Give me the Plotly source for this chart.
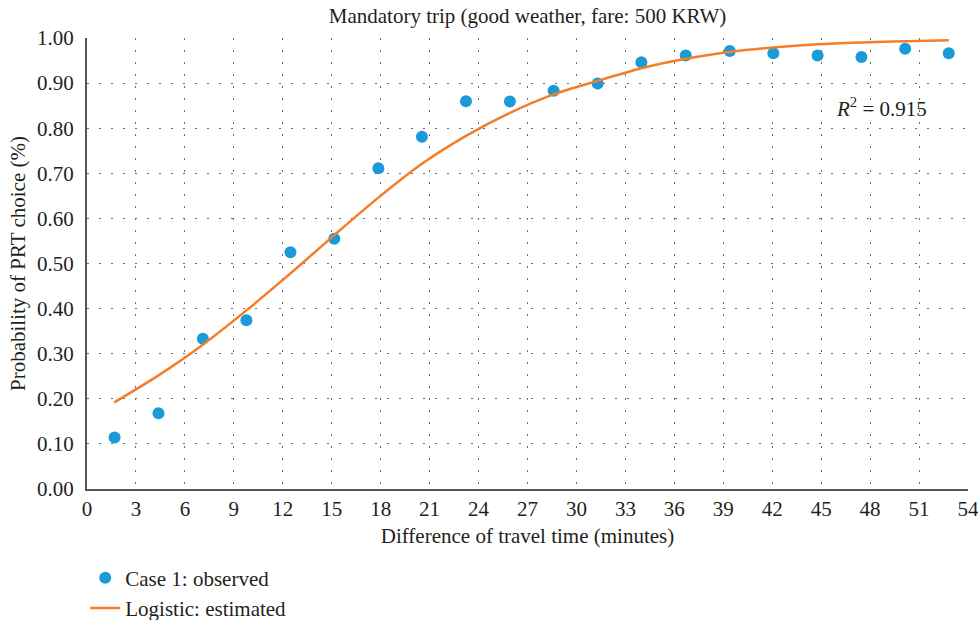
import plotly.graph_objects as go

# Observed points
obs_x = [1.69, 4.38, 7.10, 9.77, 12.47, 15.16, 17.86, 20.53, 23.23, 25.92,
         28.60, 31.30, 33.98, 36.70, 39.40, 42.07, 44.78, 47.47, 50.15, 52.82]
obs_y = [0.114, 0.168, 0.333, 0.374, 0.525, 0.555, 0.711, 0.781, 0.860, 0.859,
         0.883, 0.899, 0.946, 0.961, 0.971, 0.966, 0.961, 0.958, 0.976, 0.966]

# Estimated logistic curve
est_x = [1.67, 4.38, 7.10, 9.77, 12.47, 15.16, 17.86, 20.53, 23.23, 25.92,
         28.60, 31.30, 33.98, 36.70, 39.40, 42.07, 44.78, 47.47, 50.15, 52.82]
est_y = [0.192, 0.252, 0.320, 0.396, 0.478, 0.563, 0.646, 0.721, 0.783, 0.834,
         0.875, 0.905, 0.933, 0.954, 0.969, 0.979, 0.986, 0.990, 0.993, 0.995]

x_ticks = list(range(0, 55, 3))
y_ticks = [i / 10 for i in range(0, 11)]

FONT = "Liberation Serif"
TXT = "#231f20"
FS = 21

fig = go.Figure()
fig.add_trace(go.Scatter(
    x=obs_x, y=obs_y, mode="markers", name="Case 1: observed",
    marker=dict(color="#1A9BD7", size=12, line=dict(width=0)),
))
fig.add_trace(go.Scatter(
    x=est_x, y=est_y, mode="lines", name="Logistic: estimated",
    line=dict(color="#F47D2A", width=2.5, shape="spline", smoothing=0.8),
))

grid = dict(showgrid=True, gridcolor="#6d6d6d", gridwidth=1, griddash="1.5px,10.5px")

fig.update_layout(
    width=978, height=620,
    margin=dict(l=87, r=10, t=38, b=131, autoexpand=False),
    paper_bgcolor="white", plot_bgcolor="white",
    font=dict(family=FONT, color=TXT, size=FS),
    title=dict(text="Mandatory trip (good weather, fare: 500 KRW)",
               x=0.5, xref="paper", xanchor="center",
               y=1 - 16 / 620, yref="container", yanchor="middle",
               font=dict(size=FS, family=FONT, color=TXT)),
    xaxis=dict(range=[0, 54], tickvals=x_ticks, ticktext=[str(v) for v in x_ticks],
               showline=True, linecolor="#555555", linewidth=2, zeroline=False,
               ticks="", tickfont=dict(size=FS), ticklabelstandoff=0,
               ticklabeloverflow="allow", automargin=False,
               title=dict(text="Difference of travel time (minutes)", standoff=8,
                          font=dict(size=FS)),
               **grid),
    yaxis=dict(range=[0, 1], tickvals=y_ticks, ticktext=[f"{v:.2f}" for v in y_ticks],
               showline=True, linecolor="#555555", linewidth=2, zeroline=False,
               ticks="", tickfont=dict(size=FS), ticklabelstandoff=7,
               ticklabeloverflow="allow", automargin=False,
               title=dict(text="Probability of PRT choice (%)", standoff=6,
                          font=dict(size=FS)),
               **grid),
    legend=dict(x=-0.002, xanchor="left",
                y=-0.152, yanchor="top",
                font=dict(size=FS), bgcolor="rgba(0,0,0,0)", tracegroupgap=0),
    showlegend=True,
)

fig.add_annotation(x=45.8, y=0.846, xref="x", yref="y",
                   text="<i>R</i><sup>2</sup> = 0.915", showarrow=False,
                   xanchor="left", yanchor="middle",
                   font=dict(size=FS, family=FONT, color=TXT))

fig.write_html("out.html", config={"displayModeBar": False},
               post_script="document.body.style.margin='0';")
